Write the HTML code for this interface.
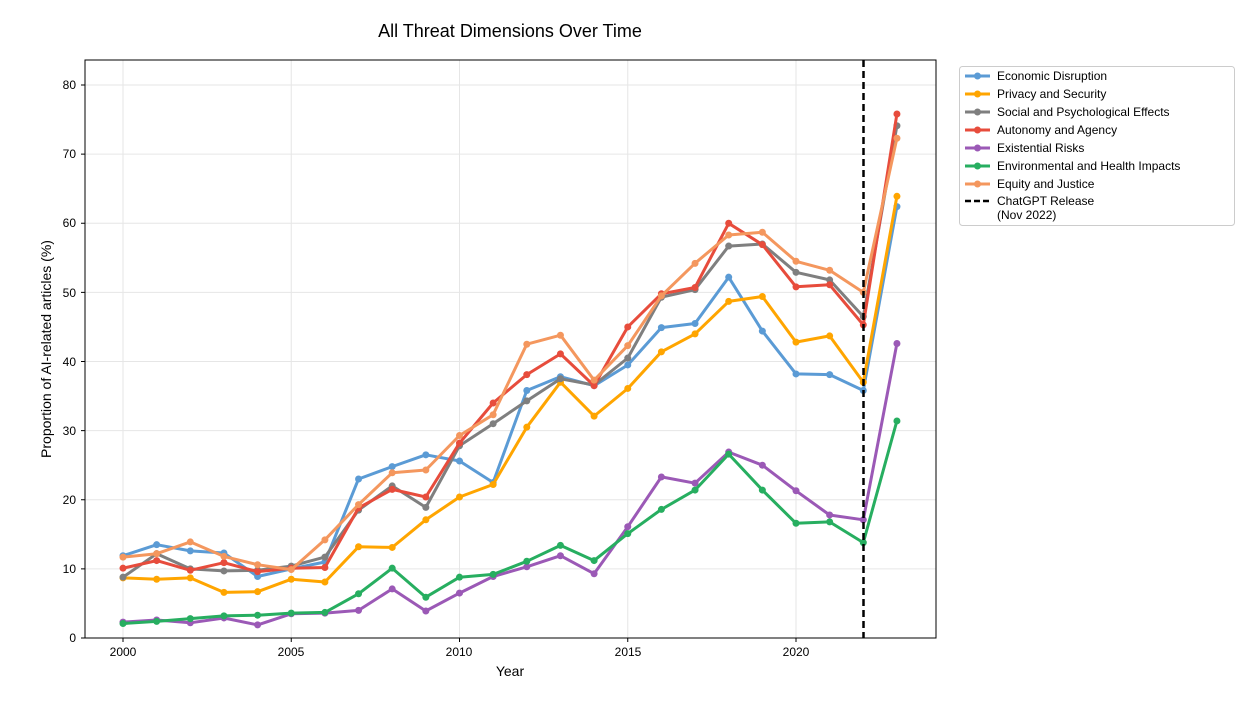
<!DOCTYPE html>
<html><head><meta charset="utf-8"><style>
body{margin:0;background:#fff;}
svg text{font-family:"Liberation Sans","DejaVu Sans",sans-serif;fill:#000;}
</style></head><body>
<svg id="s" width="1248" height="702" viewBox="0 0 1248 702" xmlns="http://www.w3.org/2000/svg">
<rect width="1248" height="702" fill="#fff"/>
<text x="510" y="37" font-size="18" text-anchor="middle">All Threat Dimensions Over Time</text>
<g id="grid" stroke="#e6e6e6" stroke-width="1"></g>
<g id="series"></g>
<line x1="863.5" y1="60" x2="863.5" y2="638" stroke="#000" stroke-width="2.5" stroke-dasharray="7,4"/>
<rect x="85" y="60" width="851" height="578" fill="none" stroke="#000" stroke-width="1"/>
<g font-size="12" text-anchor="end">
<text x="76" y="642">0</text><text x="76" y="573">10</text><text x="76" y="504">20</text><text x="76" y="435">30</text><text x="76" y="366">40</text><text x="76" y="297">50</text><text x="76" y="227">60</text><text x="76" y="158">70</text><text x="76" y="89">80</text>
</g>
<g font-size="12" text-anchor="middle">
<text x="123" y="656">2000</text><text x="291" y="656">2005</text><text x="459" y="656">2010</text><text x="628" y="656">2015</text><text x="796" y="656">2020</text>
</g>
<g id="ticks" stroke="#000"></g>
<text x="510" y="676" font-size="14" text-anchor="middle">Year</text>
<text transform="translate(51,349) rotate(-90)" font-size="14" text-anchor="middle">Proportion of AI-related articles (%)</text>
<rect x="959.5" y="66.5" width="275" height="159" rx="3" fill="#fff" stroke="#ccc"/>
<g id="leg"></g>
<g font-size="12">
<text x="997" y="80">Economic Disruption</text>
<text x="997" y="98">Privacy and Security</text>
<text x="997" y="116">Social and Psychological Effects</text>
<text x="997" y="134">Autonomy and Agency</text>
<text x="997" y="152">Existential Risks</text>
<text x="997" y="170">Environmental and Health Impacts</text>
<text x="997" y="188">Equity and Justice</text>
<text x="997" y="205">ChatGPT Release</text>
<text x="997" y="219">(Nov 2022)</text>
</g>
<line x1="965" y1="201" x2="990" y2="201" stroke="#000" stroke-width="2.5" stroke-dasharray="6,3"/>
</svg>
<script>
var NS="http://www.w3.org/2000/svg";
function el(t,a,p){var e=document.createElementNS(NS,t);for(var k in a)e.setAttribute(k,a[k]);p.appendChild(e);return e;}
function X(yr){return 123+(yr-2000)*33.65;}
function Y(v){return 638-v*6.9125;}
var g=document.getElementById('grid'),tk=document.getElementById('ticks');
for(var v=0;v<=80;v+=10){el('line',{x1:85,x2:936,y1:Y(v),y2:Y(v)},g);el('line',{x1:81,x2:85,y1:Y(v),y2:Y(v)},tk);}
for(var yr=2000;yr<=2020;yr+=5){el('line',{x1:X(yr),x2:X(yr),y1:60,y2:638},g);el('line',{x1:X(yr),x2:X(yr),y1:638,y2:642},tk);}
var S=[
["#5b9bd5",[11.9,13.5,12.6,12.3,8.9,10,11,23,24.8,26.5,25.6,22.5,35.8,37.8,36.5,39.5,44.9,45.5,52.2,44.4,38.2,38.1,35.8,62.4]],
["#ffa500",[8.7,8.5,8.7,6.6,6.7,8.5,8.1,13.2,13.1,17.1,20.4,22.2,30.5,37.0,32.1,36.1,41.4,44.0,48.7,49.4,42.8,43.7,37.0,63.9]],
["#7f7f7f",[8.8,12.2,10.0,9.7,9.8,10.4,11.7,18.5,22.0,18.9,27.8,31.0,34.3,37.5,36.6,40.5,49.3,50.4,56.7,57.0,52.9,51.8,46.5,74.1]],
["#e74c3c",[10.1,11.2,9.8,10.9,9.6,10.1,10.2,18.8,21.5,20.4,28.2,34.0,38.1,41.1,36.5,45.0,49.8,50.7,60.0,56.9,50.8,51.1,45.3,75.8]],
["#9b59b6",[2.3,2.6,2.2,2.9,1.9,3.5,3.6,4.0,7.1,3.9,6.5,8.9,10.3,11.9,9.3,16.1,23.3,22.4,26.9,25.0,21.3,17.8,17.1,42.6]],
["#27ae60",[2.1,2.4,2.8,3.2,3.3,3.6,3.7,6.4,10.1,5.9,8.8,9.2,11.1,13.4,11.2,15.1,18.6,21.4,26.6,21.4,16.6,16.8,13.8,31.4]],
["#f4975e",[11.7,12.2,13.9,11.8,10.6,9.9,14.2,19.3,23.9,24.3,29.3,32.3,42.5,43.8,37.3,42.3,49.5,54.2,58.3,58.7,54.5,53.2,50.0,72.3]]];
var sg=document.getElementById('series'),lg=document.getElementById('leg');
S.forEach(function(s,i){
 var pts=s[1].map(function(v,j){return X(2000+j).toFixed(1)+","+Y(v).toFixed(1);}).join(" ");
 el('polyline',{points:pts,fill:'none',stroke:s[0],'stroke-width':3,'stroke-linejoin':'round'},sg);
 s[1].forEach(function(v,j){el('circle',{cx:X(2000+j),cy:Y(v),r:3.5,fill:s[0]},sg);});
 var ly=76+i*18;
 el('line',{x1:965,x2:990,y1:ly,y2:ly,stroke:s[0],'stroke-width':3},lg);
 el('circle',{cx:977.5,cy:ly,r:3.5,fill:s[0]},lg);
});
</script>
</body></html>
